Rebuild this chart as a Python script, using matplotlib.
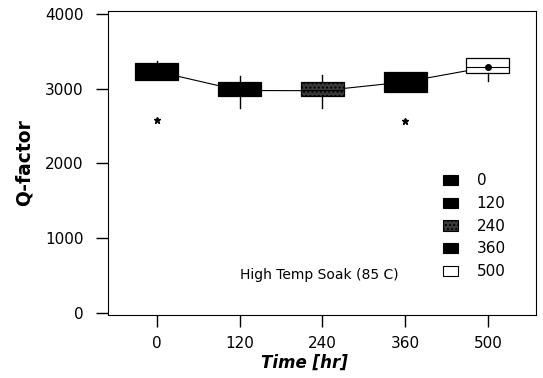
import matplotlib.pyplot as plt
from matplotlib.patches import Patch

plt.rcParams['font.family'] = ['DejaVu Sans']

# données
temps = ['0', '120', '240', '360', '500']
q1 = [3120, 2895, 2900, 2960, 3205]
mediane = [3230, 2975, 2975, 3090, 3290]
q3 = [3340, 3090, 3090, 3220, 3410]
moustache_bas = [3120, 2740, 2740, 2960, 3105]
moustache_haut = [3370, 3170, 3180, 3220, 3410]
moyenne = [3230, 2975, 2972, 3090, 3290]
aberrants = [[2580], [], [], [2565], []]

couleurs = ['black', 'black', '#3a3a3a', 'black', 'white']

stats = []
for i in range(len(temps)):
    stats.append({
        'label': temps[i], 'q1': q1[i], 'med': mediane[i], 'q3': q3[i],
        'whislo': moustache_bas[i], 'whishi': moustache_haut[i],
        'mean': moyenne[i], 'fliers': aberrants[i],
    })

fig = plt.figure(figsize=(5.43, 3.78), dpi=100)
ax = fig.add_axes([0.199, 0.1675, 0.788, 0.8035])

positions = list(range(1, len(temps) + 1))
bp = ax.bxp(stats, positions=positions, widths=0.52, patch_artist=True,
            showcaps=False, showmeans=False,
            boxprops=dict(edgecolor='black', linewidth=0.9),
            whiskerprops=dict(color='black', linewidth=1.0),
            medianprops=dict(color='black', linewidth=0.8),
            flierprops=dict(marker='*', markersize=5, markerfacecolor='black',
                            markeredgecolor='black'))

for boite, c in zip(bp['boxes'], couleurs):
    boite.set_facecolor(c)
bp['boxes'][2].set_hatch('....')
bp['boxes'][2].set_edgecolor('black')

# ligne reliant les moyennes
ax.plot(positions, moyenne, color='black', linewidth=0.8, zorder=1)
ax.plot(positions[-1], moyenne[-1], 'o', color='black', markersize=4, zorder=5)

ax.set_xlim(0.41, 5.58)
ax.set_ylim(-27, 4040)
ax.set_yticks([0, 1000, 2000, 3000, 4000])
ax.set_xticks(positions)
ax.set_xticklabels(temps)
ax.tick_params(axis='both', direction='out', length=8.5, width=1, labelsize=11)
ax.tick_params(axis='y', pad=9)
ax.tick_params(axis='x', pad=7)

ax.set_ylabel('Q-factor', fontsize=13.5, fontweight='bold', labelpad=8)
ax.set_xlabel('Time [hr]', fontsize=12, fontweight='bold', fontstyle='italic', labelpad=2)
ax.xaxis.set_label_coords(0.46, -0.13)

poignees = [Patch(facecolor=c, edgecolor='black', linewidth=0.8) for c in couleurs]
poignees[2].set_hatch('....')
ax.legend(poignees, temps, loc='upper left', bbox_to_anchor=(0.765, 0.49),
          frameon=False, fontsize=11, handlelength=1.0, handleheight=0.65,
          handletextpad=1.2, labelspacing=0.5, borderpad=0)

ax.text(0.308, 0.131, 'High Temp Soak (85 C)', transform=ax.transAxes,
        fontsize=10, va='center', ha='left')

plt.savefig('out.png', dpi=100)
